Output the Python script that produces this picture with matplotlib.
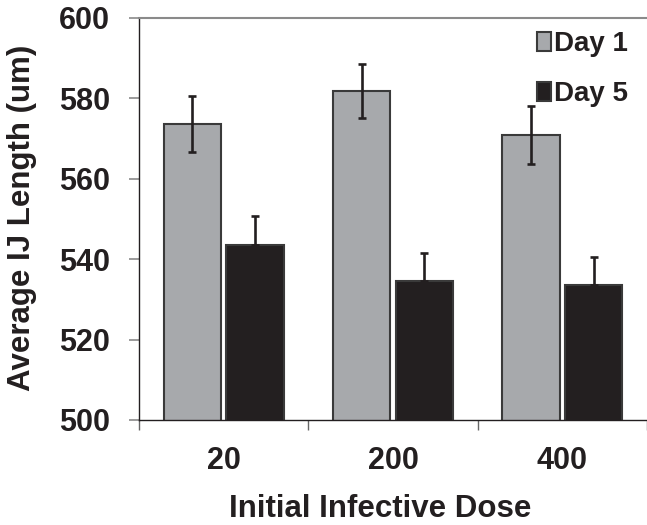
import numpy as np
import matplotlib
matplotlib.use("Agg")
from matplotlib import pyplot as plt

# data
doses = ["20", "200", "400"]
day1 = [573.6, 581.8, 570.9]
day1_err = [7.0, 6.8, 7.2]
day5 = [543.6, 534.5, 533.6]
day5_err = [7.2, 7.1, 7.0]

plt.rcParams['font.family'] = ['Liberation Sans', 'DejaVu Sans']
txt = '#231f20'

fig = plt.figure(figsize=(6.47, 5.25), dpi=100)
ax = fig.add_axes([139/647, 1-420/525, 508/647, 402/525])

x = np.arange(len(doses))
w = 0.34
off = 0.185
ax.bar(x - off, day1, w, color='#a7a9ac', edgecolor='#3a3a3a', linewidth=1.5, label='Day 1', zorder=2)
ax.bar(x + off, day5, w, color='#231f20', edgecolor='#3a3a3a', linewidth=1.5, label='Day 5', zorder=2)
ax.errorbar(x - off, day1, yerr=day1_err, fmt='none', ecolor=txt, elinewidth=1.9, capsize=3, capthick=1.9, zorder=3)
ax.errorbar(x + off, day5, yerr=[[0]*3, day5_err], fmt='none', ecolor=txt, elinewidth=1.9, capsize=3, capthick=1.9, zorder=3)

ax.set_ylim(500, 600)
ax.set_xlim(-0.5, 2.48)
ax.set_yticks([500, 520, 540, 560, 580, 600])
ax.set_xticks(x)
ax.set_xticklabels(doses)
ax.set_xticks([-0.5, 0.5, 1.5, 2.5], minor=True)

ax.spines['right'].set_visible(False)
ax.spines['top'].set_color('#8a8a8a')
ax.spines['top'].set_linewidth(1.5)
ax.spines['left'].set_color(txt)
ax.spines['bottom'].set_color(txt)
ax.spines['left'].set_linewidth(1.0)
ax.spines['bottom'].set_linewidth(1.0)

ax.tick_params(axis='y', length=7, width=1.2, color='#8a8a8a', pad=14, labelsize=22, labelcolor=txt)
ax.tick_params(axis='x', which='major', length=0, pad=19, labelsize=22, labelcolor=txt)
ax.tick_params(axis='x', which='minor', length=7, width=1.0, color='#666666')
for lab in ax.get_xticklabels() + ax.get_yticklabels():
    lab.set_fontweight('bold')

fig.text(380/647, 1-509/525, 'Initial Infective Dose', ha='center', va='center',
         fontsize=22.5, fontweight='bold', color=txt)
fig.text(22/647, 1-218/525, 'Average IJ Length (um)', ha='center', va='center',
         rotation=90, fontsize=22.5, fontweight='bold', color=txt)

leg = ax.legend(loc='upper right', bbox_to_anchor=(1.0, 1.015), frameon=False,
                handlelength=0.5, handleheight=0.65, handletextpad=0.1,
                labelspacing=0.85, borderaxespad=0.3,
                prop={'size': 20, 'weight': 'bold'})
for t in leg.get_texts():
    t.set_color(txt)

fig.savefig('out.png', dpi=100)
